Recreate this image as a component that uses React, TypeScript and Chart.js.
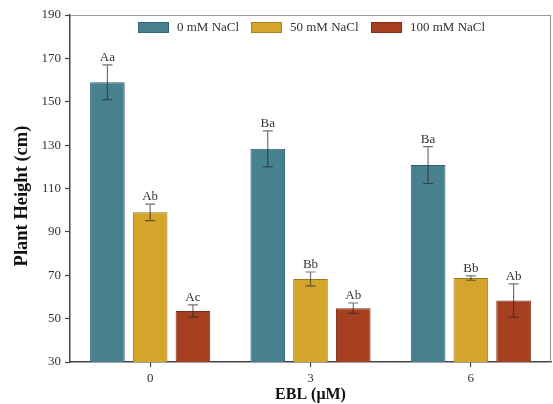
import React, { useEffect, useRef } from "react";
import { Chart, registerables } from "chart.js";

Chart.register(...registerables);

// EBL concentrations (µM) on the x axis
const categories = ["0", "3", "6"];

// Mean plant height (cm) for each NaCl level
const nacl0 = [159, 128.3, 120.8];
const nacl50 = [99, 68.3, 68.7];
const nacl100 = [53.5, 54.8, 58.3];

// Standard errors
const nacl0Err = [8, 8.3, 8.5];
const nacl50Err = [3.8, 3.2, 1];
const nacl100Err = [2.8, 2.4, 7.7];

// Significance letters
const nacl0Letters = ["Aa", "Ba", "Ba"];
const nacl50Letters = ["Ab", "Bb", "Bb"];
const nacl100Letters = ["Ac", "Ab", "Ab"];

const seriesNames = ["0 mM NaCl", "50 mM NaCl", "100 mM NaCl"];
const yTicks = [30, 50, 70, 90, 110, 130, 150, 170, 190];

const FONT = "'Liberation Serif', 'Times New Roman', serif";
const fills = ["#47808f", "#d4a52a", "#a63f1f"];
const edges = ["#2f5f6e", "#9a7a1c", "#7a2d16"];

const errors = [nacl0Err, nacl50Err, nacl100Err];
const letters = [nacl0Letters, nacl50Letters, nacl100Letters];

const decorPlugin = {
  id: "decor",
  afterDatasetsDraw(chart: any) {
    const ctx = chart.ctx;
    const area = chart.chartArea;
    const y = chart.scales.y;

    // frame: top and right edges
    ctx.save();
    ctx.strokeStyle = "#9a9a9a";
    ctx.lineWidth = 1.2;
    ctx.beginPath();
    ctx.moveTo(area.left, area.top + 0.5);
    ctx.lineTo(area.right - 0.5, area.top + 0.5);
    ctx.lineTo(area.right - 0.5, area.bottom);
    ctx.stroke();
    ctx.restore();

    // error bars and letters
    chart.data.datasets.forEach((ds: any, di: number) => {
      const meta = chart.getDatasetMeta(di);
      meta.data.forEach((bar: any, i: number) => {
        const v = ds.data[i];
        const e = errors[di][i];
        const x = bar.x;
        const yTop = y.getPixelForValue(v + e);
        const yBot = y.getPixelForValue(v - e);
        ctx.save();
        ctx.strokeStyle = "rgba(40,40,40,0.65)";
        ctx.lineWidth = 1.2;
        ctx.beginPath();
        ctx.moveTo(x, yTop);
        ctx.lineTo(x, yBot);
        ctx.moveTo(x - 5, yTop);
        ctx.lineTo(x + 5, yTop);
        ctx.moveTo(x - 5, yBot);
        ctx.lineTo(x + 5, yBot);
        ctx.stroke();
        ctx.fillStyle = "#333";
        ctx.font = `13px ${FONT}`;
        ctx.textAlign = "center";
        ctx.textBaseline = "bottom";
        ctx.fillText(letters[di][i], x, yTop - 1);
        ctx.restore();
      });
    });

    // legend inside the plot
    ctx.save();
    ctx.font = `13px ${FONT}`;
    ctx.textBaseline = "middle";
    ctx.textAlign = "left";
    const boxX = [138, 251, 371];
    seriesNames.forEach((name, i) => {
      ctx.fillStyle = fills[i];
      ctx.fillRect(boxX[i], 22, 31, 11);
      ctx.strokeStyle = edges[i];
      ctx.lineWidth = 0.8;
      ctx.strokeRect(boxX[i] + 0.5, 22.5, 30, 10);
      ctx.fillStyle = "#333";
      ctx.fillText(name, boxX[i] + 39, 28);
    });
    ctx.restore();

    // axis titles
    ctx.save();
    ctx.fillStyle = "#111";
    ctx.font = `bold 16px ${FONT}`;
    ctx.textAlign = "center";
    ctx.textBaseline = "middle";
    ctx.fillText("EBL (\u03bcM)", (area.left + area.right) / 2, 395);
    ctx.font = `bold 18.5px ${FONT}`;
    ctx.translate(22, 196);
    ctx.rotate(-Math.PI / 2);
    ctx.fillText("Plant Height (cm)", 0, 0);
    ctx.restore();
  },
};

export default function App() {
  const ref = useRef<HTMLCanvasElement>(null);

  useEffect(() => {
    document.body.style.margin = "0";
    const canvas = ref.current;
    if (!canvas) return;
    const datasets = [nacl0, nacl50, nacl100].map((data, i) => ({
      label: seriesNames[i],
      data,
      backgroundColor: fills[i],
      borderColor: edges[i],
      borderWidth: 1,
      categoryPercentage: 0.8,
      barPercentage: 0.81,
    }));
    const chart = new Chart(canvas, {
      type: "bar",
      data: { labels: categories, datasets },
      options: {
        animation: false,
        responsive: false,
        maintainAspectRatio: false,
        layout: { padding: { top: 15, right: 2, left: 0, bottom: 0 } },
        plugins: {
          legend: { display: false },
          tooltip: { enabled: false },
        },
        scales: {
          x: {
            grid: {
              offset: false,
              drawOnChartArea: false,
              tickLength: 5,
              color: "#444",
              tickWidth: 1.2,
            },
            border: { color: "#444", width: 1.5 },
            ticks: {
              color: "#333",
              font: { family: FONT, size: 13 },
              padding: 4,
            },
            afterFit(scale: any) {
              scale.height = 42;
            },
          },
          y: {
            min: 30,
            max: 190,
            afterBuildTicks(scale: any) {
              scale.ticks = yTicks.map((v) => ({ value: v }));
            },
            grid: {
              drawOnChartArea: false,
              tickLength: 5,
              color: "#444",
              tickWidth: 1.2,
            },
            border: { color: "#444", width: 1.5 },
            ticks: {
              color: "#333",
              font: { family: FONT, size: 13 },
              padding: 4,
            },
            afterFit(scale: any) {
              scale.width = 70;
            },
          },
        },
      },
      plugins: [decorPlugin],
    } as any);
    return () => chart.destroy();
  }, []);

  return <canvas ref={ref} width={553} height={404} style={{ display: "block" }} />;
}
